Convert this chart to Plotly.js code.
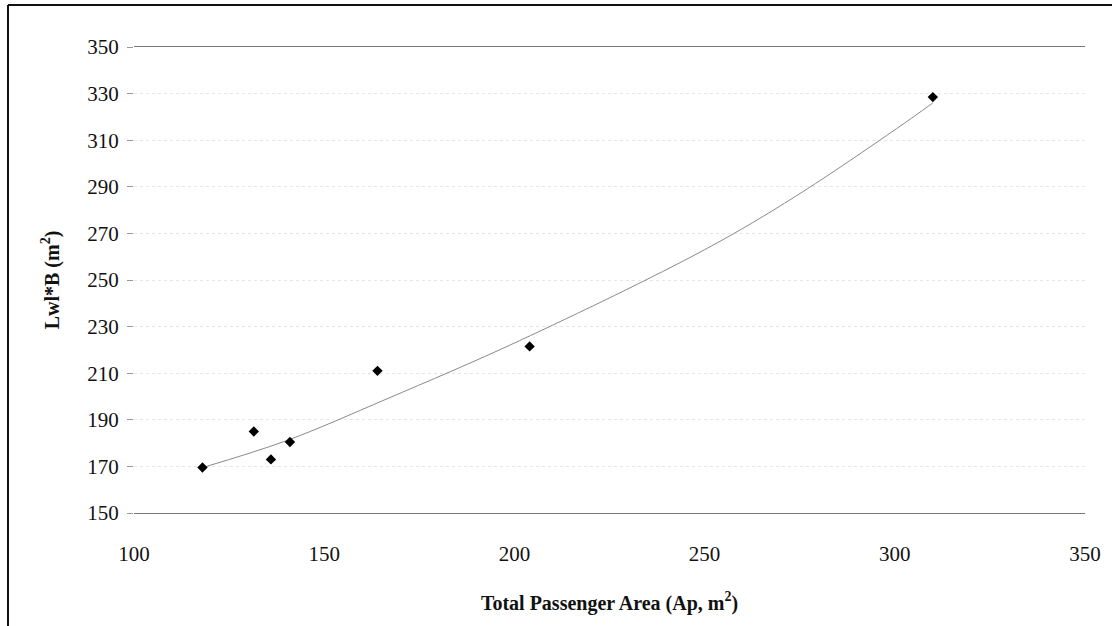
<!DOCTYPE html>
<html>
<head>
<meta charset="utf-8">
<script src="https://cdn.plot.ly/plotly-3.0.1.min.js"></script>
<style>
html,body{margin:0;padding:0;background:#fff;}
#chart{width:1112px;height:626px;}
</style>
</head>
<body>
<div id="chart"></div>
<script>
// Data points
var areaAp = [118, 131.5, 136, 141, 164, 204, 310];
var lwlB   = [169.5, 185, 173, 180.5, 211, 221.5, 328.5];

// Trendline
var trendX = [118, 140, 166.5, 201.4, 250, 274, 300.5, 310];
var trendY = [169.5, 181, 199, 224, 263, 286, 315, 326];

var yTicks = [150, 170, 190, 210, 230, 250, 270, 290, 310, 330, 350];
var xTicks = [100, 150, 200, 250, 300, 350];

var serif = 'Liberation Serif, Times New Roman, serif';

var traces = [
  {
    x: trendX, y: trendY, type: 'scatter', mode: 'lines',
    line: {color: '#8a8a8a', width: 1, shape: 'spline', smoothing: 1},
    hoverinfo: 'skip', showlegend: false
  },
  {
    x: areaAp, y: lwlB, type: 'scatter', mode: 'markers',
    marker: {symbol: 'diamond', size: 8, color: '#000'},
    showlegend: false
  }
];

var layout = {
  width: 1112, height: 626,
  margin: {l: 134, r: 27, t: 47, b: 113},
  paper_bgcolor: '#fff', plot_bgcolor: '#fff',
  showlegend: false,
  font: {family: serif, color: '#111', size: 21},
  xaxis: {
    range: [100, 350], tickvals: xTicks, ticktext: xTicks.map(String),
    showgrid: false, zeroline: false,
    showline: true, linecolor: '#777', linewidth: 1, mirror: true,
    ticks: '', ticklabelstandoff: 22,
    tickfont: {family: serif, size: 21, color: '#111'},
    title: {text: '<b>Total Passenger Area (Ap, m<sup>2</sup>)</b>', font: {family: serif, size: 20, color: '#111'}, standoff: 30}
  },
  yaxis: {
    range: [150, 350], tickvals: yTicks, ticktext: yTicks.map(String),
    showgrid: true, gridcolor: '#e6e6e6', griddash: 'dot', gridwidth: 1,
    zeroline: false, showline: false,
    ticks: 'outside', ticklen: 6, tickcolor: '#999', tickwidth: 1,
    ticklabelstandoff: 4,
    tickfont: {family: serif, size: 21, color: '#111'},
    title: {text: '<b>Lwl*B (m<sup>2</sup>)</b>', font: {family: serif, size: 20, color: '#111'}, standoff: 22}
  },
  shapes: [
    {type: 'line', xref: 'paper', yref: 'paper', x0: -0.1325, x1: -0.1325, y0: -0.3, y1: 1.09,
     line: {color: '#111', width: 2}},
    {type: 'line', xref: 'paper', yref: 'paper', x0: -0.1325, x1: 1.05, y0: 1.09, y1: 1.09,
     line: {color: '#111', width: 2}}
  ]
};

Plotly.newPlot('chart', traces, layout, {displayModeBar: false, staticPlot: true});
</script>
</body>
</html>
